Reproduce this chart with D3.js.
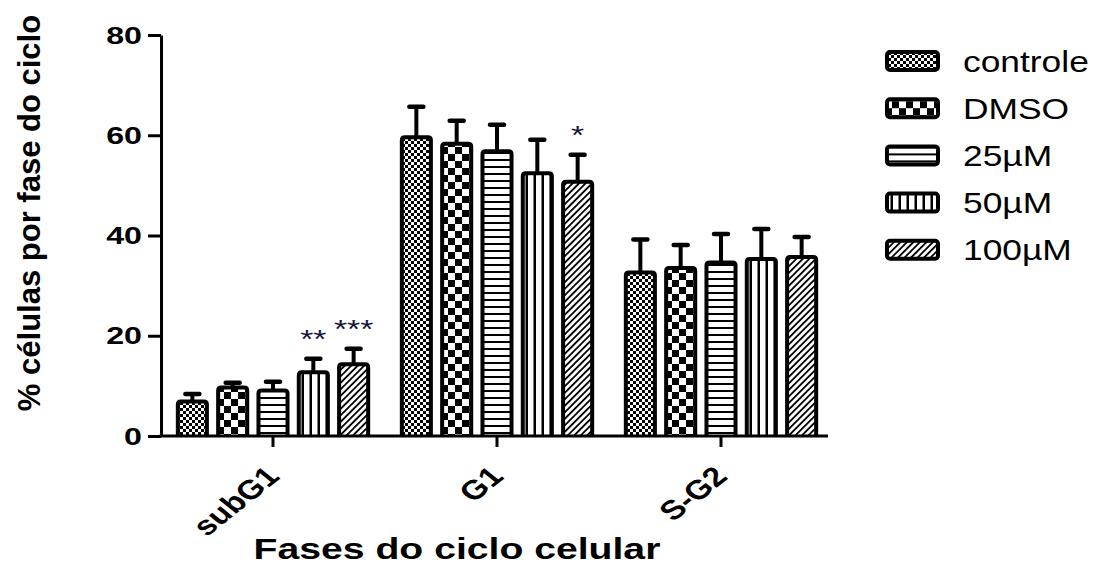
<!DOCTYPE html>
<html>
<head>
<meta charset="utf-8">
<script src="https://cdn.jsdelivr.net/npm/d3@7"></script>
<style>
    body { margin: 0; background: #fff; }
    svg { display: block; }
    text { font-family: "Liberation Sans", Arial, sans-serif; fill: #000; }
    .axis path, .axis line { stroke: #000; stroke-width: 3; }
    .bar { stroke: #000; stroke-width: 4; }
    .errLine { stroke: #000; stroke-width: 4; }
    .errCap { stroke: #000; stroke-width: 4.5; stroke-linecap: round; }
</style>
</head>
<body>
<script>
// Data
const groups = ['subG1', 'G1', 'S-G2'];
const series = ['controle', 'DMSO', '25µM', '50µM', '100µM'];
const patternIds = ['pCtrl', 'pDmso', 'pH', 'pV', 'pDiag'];

const meanControle = [6.9, 59.6, 32.6];
const meanDMSO = [9.7, 58.3, 33.5];
const mean25 = [9.1, 56.8, 34.6];
const mean50 = [12.7, 52.4, 35.3];
const mean100 = [14.3, 50.7, 35.7];

const sdControle = [1.5, 6.1, 6.6];
const sdDMSO = [0.9, 4.6, 4.6];
const sd25 = [1.7, 5.3, 5.7];
const sd50 = [2.7, 6.7, 6.0];
const sd100 = [3.1, 5.4, 4.0];

// significance marks, per series, per group
const starsControle = ['', '', ''];
const starsDMSO = ['', '', ''];
const stars25 = ['', '', ''];
const stars50 = ['**', '', ''];
const stars100 = ['***', '*', ''];

const yTicks = [0, 20, 40, 60, 80];

const means = [meanControle, meanDMSO, mean25, mean50, mean100];
const sds = [sdControle, sdDMSO, sd25, sd50, sd100];
const stars = [starsControle, starsDMSO, stars25, stars50, stars100];

const W = 1096, H = 579;

const svg = d3.select('body').append('svg')
    .attr('width', W)
    .attr('height', H);

// patterns
const defs = svg.append('defs');

let p = defs.append('pattern').attr('id', 'pCtrl').attr('patternUnits', 'userSpaceOnUse')
    .attr('width', 6).attr('height', 6);
p.append('rect').attr('width', 6).attr('height', 6).attr('fill', '#fff');
p.append('rect').attr('width', 3).attr('height', 3).attr('fill', '#000');
p.append('rect').attr('x', 3).attr('y', 3).attr('width', 3).attr('height', 3).attr('fill', '#000');

p = defs.append('pattern').attr('id', 'pDmso').attr('patternUnits', 'userSpaceOnUse')
    .attr('width', 14).attr('height', 14);
p.append('rect').attr('width', 14).attr('height', 14).attr('fill', '#fff');
p.append('rect').attr('width', 7).attr('height', 7).attr('fill', '#000');
p.append('rect').attr('x', 7).attr('y', 7).attr('width', 7).attr('height', 7).attr('fill', '#000');

p = defs.append('pattern').attr('id', 'pH').attr('patternUnits', 'userSpaceOnUse')
    .attr('width', 7).attr('height', 7);
p.append('rect').attr('width', 7).attr('height', 7).attr('fill', '#fff');
p.append('rect').attr('y', 5).attr('width', 7).attr('height', 2).attr('fill', '#000');

p = defs.append('pattern').attr('id', 'pV').attr('patternUnits', 'userSpaceOnUse')
    .attr('width', 8).attr('height', 8);
p.append('rect').attr('width', 8).attr('height', 8).attr('fill', '#fff');
p.append('rect').attr('x', 5.5).attr('width', 2.5).attr('height', 8).attr('fill', '#000');

p = defs.append('pattern').attr('id', 'pDiag').attr('patternUnits', 'userSpaceOnUse')
    .attr('width', 4.6).attr('height', 8).attr('patternTransform', 'rotate(45)');
p.append('rect').attr('width', 4.6).attr('height', 8).attr('fill', '#fff');
p.append('rect').attr('width', 1.8).attr('height', 8).attr('fill', '#000');

// scales
const x0 = d3.scaleBand()
    .domain(groups)
    .range([161, 833])
    .paddingInner(0.1)
    .paddingOuter(0.05);

const x1 = d3.scaleBand()
    .domain(series)
    .range([0, x0.bandwidth()])
    .paddingInner(0.18)
    .paddingOuter(0.09);

const y = d3.scaleLinear()
    .domain([0, 80])
    .range([436, 35]);

// bars, one group per phase
const rows = [];
groups.forEach(function (g, gi) {
    series.forEach(function (s, si) {
        rows.push({ group: g, key: s, pat: patternIds[si], mean: means[si][gi], sd: sds[si][gi], star: stars[si][gi] });
    });
});

function barPath(d) {
    const bx = x0(d.group) + x1(d.key) + 2;
    const bw = x1.bandwidth() - 4;
    const top = y(d.mean), base = y(0), r = 3;
    return 'M' + bx + ',' + base +
        'V' + (top + r) +
        'Q' + bx + ',' + top + ' ' + (bx + r) + ',' + top +
        'H' + (bx + bw - r) +
        'Q' + (bx + bw) + ',' + top + ' ' + (bx + bw) + ',' + (top + r) +
        'V' + base;
}

const cx = d => x0(d.group) + x1(d.key) + x1.bandwidth() / 2;

svg.selectAll('.errLine')
    .data(rows)
    .enter().append('line')
    .attr('class', 'errLine')
    .attr('x1', cx).attr('x2', cx)
    .attr('y1', d => y(d.mean))
    .attr('y2', d => y(d.mean + d.sd));

svg.selectAll('.errCap')
    .data(rows)
    .enter().append('line')
    .attr('class', 'errCap')
    .attr('x1', d => cx(d) - 7).attr('x2', d => cx(d) + 7)
    .attr('y1', d => y(d.mean + d.sd))
    .attr('y2', d => y(d.mean + d.sd));

svg.selectAll('.bar')
    .data(rows)
    .enter().append('path')
    .attr('class', 'bar')
    .attr('fill', d => 'url(#' + d.pat + ')')
    .attr('d', barPath);

// significance stars
svg.selectAll('.star')
    .data(rows.filter(d => d.star !== ''))
    .enter().append('text')
    .attr('class', 'star')
    .attr('transform', d => 'translate(' + cx(d) + ',' + (y(d.mean + d.sd) - 11) + ') scale(1.3,1)')
    .style('text-anchor', 'middle')
    .style('font-size', '26px')
    .style('fill', '#14143c')
    .text(d => d.star);

// axes
const yAxis = d3.axisLeft(y)
    .tickValues(yTicks)
    .tickSize(13)
    .tickSizeOuter(0)
    .tickFormat(d3.format('d'));

const gy = svg.append('g')
    .attr('class', 'y axis')
    .attr('transform', 'translate(161,0)')
    .call(yAxis);
gy.selectAll('text')
    .attr('x', null).attr('dy', null)
    .attr('transform', 'translate(-19,8) scale(1.4,1)')
    .style('font-size', '23px')
    .style('font-weight', 'bold');

const xAxis = d3.axisBottom(x0)
    .tickSize(11)
    .tickSizeOuter(0);

const gx = svg.append('g')
    .attr('class', 'x axis')
    .attr('transform', 'translate(0,436)')
    .call(xAxis);
gx.select('.domain').attr('d', 'M159.5,0H828');
gx.selectAll('text')
    .attr('y', null).attr('dy', null)
    .attr('transform', 'translate(8,42) scale(1.25,1) rotate(-45)')
    .style('text-anchor', 'end')
    .style('font-size', '27px')
    .style('font-weight', 'bold');

// titles
svg.append('text')
    .attr('transform', 'translate(457,559) scale(1.35,1)')
    .style('text-anchor', 'middle')
    .style('font-size', '29px')
    .style('font-weight', 'bold')
    .text('Fases do ciclo celular');

svg.append('text')
    .attr('transform', 'translate(40,213) rotate(-90)')
    .style('text-anchor', 'middle')
    .style('font-size', '31px')
    .style('font-weight', 'bold')
    .text('% células por fase do ciclo');

// legend
const legend = svg.selectAll('.legend')
    .data(series)
    .enter().append('g')
    .attr('class', 'legend')
    .attr('transform', (d, i) => 'translate(885,' + (61 + i * 47.2) + ')');

legend.append('rect')
    .attr('x', 2).attr('y', -9)
    .attr('width', 51).attr('height', 18)
    .attr('rx', 3)
    .attr('fill', (d, i) => 'url(#' + patternIds[i] + ')')
    .attr('stroke', '#000')
    .attr('stroke-width', 4);

legend.append('text')
    .attr('transform', 'translate(78,10.5) scale(1.22,1)')
    .style('font-size', '29px')
    .text(d => d);
</script>
</body>
</html>
